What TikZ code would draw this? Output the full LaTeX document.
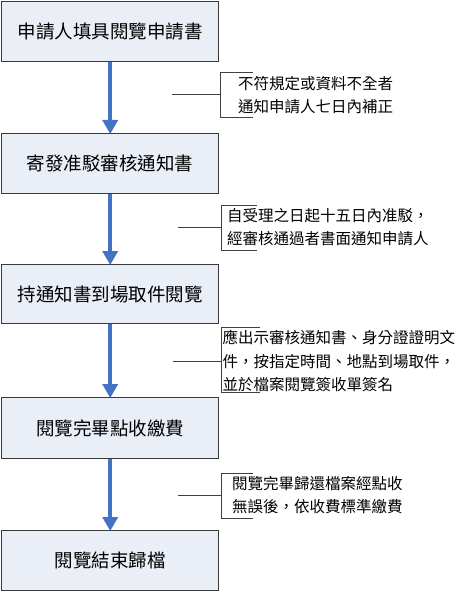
\documentclass[tikz,border=0pt]{standalone}
\usepackage{fontspec}
\setmainfont{Noto Sans CJK TC}
\usetikzlibrary{arrows.meta}
\definecolor{boxfill}{HTML}{E9EEF7}
\definecolor{boxline}{HTML}{3A3A3A}
\definecolor{arrblue}{HTML}{4472C4}
\begin{document}
\begin{tikzpicture}[x=1pt,y=-1pt,
  stepbox/.style={draw=boxline,line width=1.4pt,fill=boxfill,minimum width=217pt,minimum height=60pt,inner sep=0pt,font=\fontsize{18.5}{21}\selectfont,anchor=north west},
  flow/.style={draw=arrblue,line width=4.5pt,-{Triangle[width=15pt,length=14pt]},shorten >=-1pt},
  note/.style={anchor=west,align=left,inner sep=0pt,font=\fontsize{15.5}{23.5}\selectfont},
  brk/.style={draw=black!75,line width=0.9pt}]
\useasboundingbox (0,0) rectangle (464,591);
\node[stepbox] (b1) at (1,1) {申請人填具閱覽申請書};
\node[stepbox] (b2) at (1,133) {寄發准駁審核通知書};
\node[stepbox,minimum height=59pt] (b3) at (1,264) {持通知書到場取件閱覽};
\node[stepbox,minimum height=61pt] (b4) at (1,397) {閱覽完畢點收繳費};
\node[stepbox] (b5) at (1,530) {閱覽結束歸檔};
\draw[flow] (b1.south) -- (b2.north);
\draw[flow] (b2.south) -- (b3.north);
\draw[flow] (b3.south) -- (b4.north);
\draw[flow] (b4.south) -- (b5.north);
% note 1
\coordinate (t1) at (253,72); \coordinate (u1) at (253,117); \coordinate (c1) at (172,94);
\draw[brk] (t1) -- (220,72) -- (220,117) -- (u1);
\draw[brk] (c1) -- (220,94);
\node[note] (n1) at (238,95) {不符規定或資料不全者\\通知申請人七日內補正};
% note 2
\coordinate (t2) at (257,205); \coordinate (u2) at (257,250); \coordinate (c2) at (178,227);
\draw[brk] (t2) -- (221,205) -- (221,250) -- (u2);
\draw[brk] (c2) -- (221,227);
\node[note] (n2) at (227,227) {自受理之日起十五日內准駁，\\經審核通過者書面通知申請人};
% note 3
\coordinate (t3) at (260,327); \coordinate (u3) at (260,392); \coordinate (c3) at (173,361);
\draw[brk] (t3) -- (221,327) -- (221,392) -- (u3);
\draw[brk] (c3) -- (221,361);
\node[note] (n3) at (222.5,361) {應出示審核通知書、身分證證明文\\件，按指定時間、地點到場取件，\\並於檔案閱覽簽收單簽名};
% note 4
\coordinate (t4) at (253,473); \coordinate (u4) at (253,518); \coordinate (c4) at (178,495);
\draw[brk] (t4) -- (221,473) -- (221,518) -- (u4);
\draw[brk] (c4) -- (221,495);
\node[note] (n4) at (232,495) {閱覽完畢歸還檔案經點收\\無誤後，依收費標準繳費};
\end{tikzpicture}
\end{document}
